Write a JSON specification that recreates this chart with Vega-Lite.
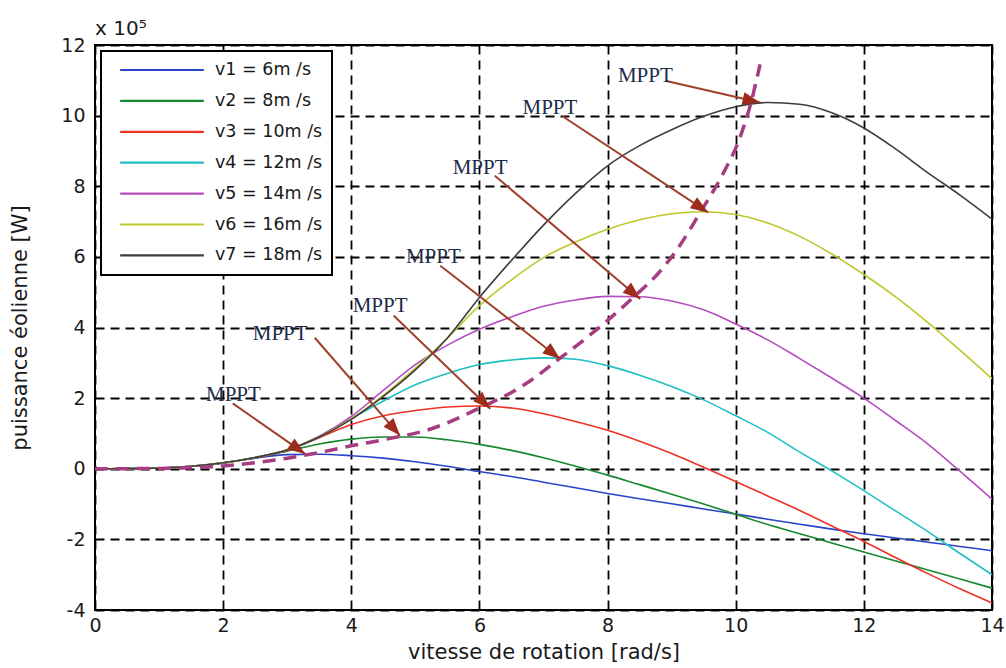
{
  "$schema": "https://vega.github.io/schema/vega-lite/v6.json",
  "width": 897,
  "height": 565,
  "autosize": {"type": "none"},
  "padding": {"left": 95, "top": 45, "right": 14, "bottom": 58},
  "background": "white",
  "title": {"text": "x 10⁵", "anchor": "start", "frame": "group", "font": "DejaVu Sans", "fontSize": 20, "fontWeight": "normal", "color": "#1a1a1a", "offset": -3},
  "datasets": {
    "curves": [
      {"x": 0, "v1": 0, "v2": 0, "v3": 0, "v4": 0, "v5": 0, "v6": 0, "v7": 0},
      {"x": 0.5, "v1": 0.003, "v2": 0.003, "v3": 0.003, "v4": 0.003, "v5": 0.003, "v6": 0.003, "v7": 0.003},
      {"x": 1, "v1": 0.02, "v2": 0.02, "v3": 0.02, "v4": 0.02, "v5": 0.02, "v6": 0.02, "v7": 0.02},
      {"x": 1.5, "v1": 0.07, "v2": 0.07, "v3": 0.07, "v4": 0.07, "v5": 0.07, "v6": 0.07, "v7": 0.07},
      {"x": 2, "v1": 0.16, "v2": 0.17, "v3": 0.16, "v4": 0.17, "v5": 0.17, "v6": 0.17, "v7": 0.17},
      {"x": 2.5, "v1": 0.3, "v2": 0.31, "v3": 0.31, "v4": 0.32, "v5": 0.32, "v6": 0.32, "v7": 0.32},
      {"x": 3, "v1": 0.4, "v2": 0.5, "v3": 0.52, "v4": 0.53, "v5": 0.54, "v6": 0.54, "v7": 0.53},
      {"x": 3.5, "v1": 0.41, "v2": 0.7, "v3": 0.88, "v4": 0.9, "v5": 0.92, "v6": 0.91, "v7": 0.9},
      {"x": 4, "v1": 0.37, "v2": 0.84, "v3": 1.25, "v4": 1.42, "v5": 1.48, "v6": 1.42, "v7": 1.4},
      {"x": 4.5, "v1": 0.3, "v2": 0.9, "v3": 1.5, "v4": 1.92, "v5": 2.22, "v6": 2.08, "v7": 2.05},
      {"x": 5, "v1": 0.2, "v2": 0.9, "v3": 1.65, "v4": 2.38, "v5": 2.95, "v6": 2.85, "v7": 2.8},
      {"x": 5.5, "v1": 0.07, "v2": 0.82, "v3": 1.75, "v4": 2.7, "v5": 3.5, "v6": 3.7, "v7": 3.7},
      {"x": 6, "v1": -0.08, "v2": 0.69, "v3": 1.775, "v4": 2.95, "v5": 3.95, "v6": 4.62, "v7": 4.85},
      {"x": 6.5, "v1": -0.22, "v2": 0.52, "v3": 1.72, "v4": 3.08, "v5": 4.3, "v6": 5.35, "v7": 5.9},
      {"x": 7, "v1": -0.38, "v2": 0.31, "v3": 1.56, "v4": 3.14, "v5": 4.6, "v6": 5.98, "v7": 6.9},
      {"x": 7.5, "v1": -0.54, "v2": 0.07, "v3": 1.34, "v4": 3.1, "v5": 4.78, "v6": 6.42, "v7": 7.8},
      {"x": 8, "v1": -0.7, "v2": -0.18, "v3": 1.09, "v4": 2.92, "v5": 4.88, "v6": 6.78, "v7": 8.58},
      {"x": 8.5, "v1": -0.85, "v2": -0.45, "v3": 0.78, "v4": 2.65, "v5": 4.87, "v6": 7.05, "v7": 9.15},
      {"x": 9, "v1": -0.99, "v2": -0.72, "v3": 0.43, "v4": 2.33, "v5": 4.75, "v6": 7.22, "v7": 9.6},
      {"x": 9.5, "v1": -1.14, "v2": -1.0, "v3": 0.04, "v4": 1.95, "v5": 4.5, "v6": 7.28, "v7": 9.98},
      {"x": 10, "v1": -1.28, "v2": -1.29, "v3": -0.36, "v4": 1.5, "v5": 4.1, "v6": 7.2, "v7": 10.25},
      {"x": 10.5, "v1": -1.43, "v2": -1.58, "v3": -0.77, "v4": 1.03, "v5": 3.65, "v6": 6.96, "v7": 10.37},
      {"x": 11, "v1": -1.57, "v2": -1.84, "v3": -1.18, "v4": 0.47, "v5": 3.12, "v6": 6.58, "v7": 10.32},
      {"x": 11.5, "v1": -1.71, "v2": -2.1, "v3": -1.62, "v4": -0.06, "v5": 2.57, "v6": 6.08, "v7": 10.08},
      {"x": 12, "v1": -1.84, "v2": -2.36, "v3": -2.06, "v4": -0.62, "v5": 2.0, "v6": 5.5, "v7": 9.65},
      {"x": 12.5, "v1": -1.96, "v2": -2.61, "v3": -2.52, "v4": -1.2, "v5": 1.36, "v6": 4.86, "v7": 9.05},
      {"x": 13, "v1": -2.08, "v2": -2.87, "v3": -2.97, "v4": -1.78, "v5": 0.7, "v6": 4.14, "v7": 8.38},
      {"x": 13.5, "v1": -2.2, "v2": -3.12, "v3": -3.4, "v4": -2.4, "v5": -0.07, "v6": 3.36, "v7": 7.75},
      {"x": 14, "v1": -2.32, "v2": -3.38, "v3": -3.8, "v4": -3.0, "v5": -0.86, "v6": 2.55, "v7": 7.07}
    ],
    "mppt": [
      {"x": 0, "P": 0}, {"x": 1, "P": 0.01}, {"x": 2, "P": 0.08}, {"x": 2.5, "P": 0.17},
      {"x": 3, "P": 0.3}, {"x": 3.5, "P": 0.46}, {"x": 4, "P": 0.65}, {"x": 4.5, "P": 0.82},
      {"x": 4.8, "P": 0.93}, {"x": 5.1, "P": 1.05}, {"x": 5.5, "P": 1.3}, {"x": 6, "P": 1.72},
      {"x": 6.5, "P": 2.16}, {"x": 6.8, "P": 2.5}, {"x": 7.2, "P": 3.05}, {"x": 7.7, "P": 3.75},
      {"x": 8.0, "P": 4.2}, {"x": 8.43, "P": 4.9}, {"x": 8.8, "P": 5.55}, {"x": 9.1, "P": 6.25},
      {"x": 9.46, "P": 7.3}, {"x": 9.8, "P": 8.35}, {"x": 10.06, "P": 9.35}, {"x": 10.24, "P": 10.38},
      {"x": 10.38, "P": 11.45}
    ],
    "annot": [
      {"label": "MPPT", "lx": 2.16, "ly": 2.09, "ax": 2.15, "ay": 1.85, "tx": 3.28, "ty": 0.42, "angle": 125},
      {"label": "MPPT", "lx": 2.89, "ly": 3.82, "ax": 3.43, "ay": 3.71, "tx": 4.76, "ty": 0.94, "angle": 139},
      {"label": "MPPT", "lx": 4.45, "ly": 4.62, "ax": 4.66, "ay": 4.34, "tx": 6.17, "ty": 1.7, "angle": 134},
      {"label": "MPPT", "lx": 5.28, "ly": 5.99, "ax": 5.39, "ay": 5.75, "tx": 7.26, "ty": 3.11, "angle": 128},
      {"label": "MPPT", "lx": 6.01, "ly": 8.53, "ax": 6.24, "ay": 8.3, "tx": 8.51, "ty": 4.81, "angle": 130},
      {"label": "MPPT", "lx": 7.1, "ly": 10.23, "ax": 7.29, "ay": 9.99, "tx": 9.57, "ty": 7.26, "angle": 123},
      {"label": "MPPT", "lx": 8.59, "ly": 11.13, "ax": 8.9, "ay": 10.99, "tx": 10.38, "ty": 10.37, "angle": 103}
    ]
  },
  "layer": [
    {
      "data": {"name": "curves"},
      "transform": [{"fold": ["v1", "v2", "v3", "v4", "v5", "v6", "v7"], "as": ["serie", "P"]}],
      "mark": {"type": "line", "strokeWidth": 1.6, "interpolate": "monotone"},
      "encoding": {
        "x": {"field": "x", "type": "quantitative", "scale": {"domain": [0, 14], "nice": false, "zero": false},
              "title": "vitesse de rotation [rad/s]",
              "axis": {"values": [0, 2, 4, 6, 8, 10, 12, 14], "labelExpr": "'' + datum.value", "labelFlush": false, "labelOverlap": false, "labelPadding": 6, "titlePadding": 6}},
        "y": {"field": "P", "type": "quantitative", "scale": {"domain": [-4, 12], "nice": false, "zero": false},
              "title": "puissance éolienne [W]",
              "axis": {"values": [-4, -2, 0, 2, 4, 6, 8, 10, 12], "labelExpr": "'' + datum.value", "labelOverlap": false, "labelPadding": 10, "titlePadding": 30}},
        "color": {"field": "serie", "type": "nominal",
                  "scale": {"domain": ["v1", "v2", "v3", "v4", "v5", "v6", "v7"],
                            "range": ["#2a44c8", "#16882e", "#ee3124", "#1fbfc4", "#b54cc0", "#bfc72a", "#3d3d3d"]},
                  "legend": {"title": null, "orient": "top-left", "offset": 6,
                             "labelExpr": "{'v1': 'v1 = 6m /s', 'v2': 'v2 = 8m /s', 'v3': 'v3 = 10m /s', 'v4': 'v4 = 12m /s', 'v5': 'v5 = 14m /s', 'v6': 'v6 = 16m /s', 'v7': 'v7 = 18m /s'}[datum.label]"}}
      }
    },
    {
      "data": {"name": "mppt"},
      "mark": {"type": "line", "color": "#a63d80", "strokeWidth": 3.5, "strokeDash": [13, 8], "interpolate": "monotone"},
      "encoding": {
        "x": {"field": "x", "type": "quantitative", "title": "vitesse de rotation [rad/s]"},
        "y": {"field": "P", "type": "quantitative", "title": "puissance éolienne [W]"}
      }
    },
    {
      "data": {"name": "annot"},
      "mark": {"type": "rule", "color": "#a0402a", "strokeWidth": 2},
      "encoding": {
        "x": {"field": "ax", "type": "quantitative", "title": "vitesse de rotation [rad/s]"},
        "y": {"field": "ay", "type": "quantitative", "title": "puissance éolienne [W]"},
        "x2": {"field": "tx"},
        "y2": {"field": "ty"}
      }
    },
    {
      "data": {"name": "annot"},
      "mark": {"type": "point", "shape": "M0,0L-0.6,1.6L0.6,1.6Z", "filled": true, "size": 480, "color": "#9e2c1c", "opacity": 1},
      "encoding": {
        "x": {"field": "tx", "type": "quantitative", "title": "vitesse de rotation [rad/s]"},
        "y": {"field": "ty", "type": "quantitative", "title": "puissance éolienne [W]"},
        "angle": {"field": "angle", "type": "quantitative", "scale": null}
      }
    },
    {
      "data": {"name": "annot"},
      "mark": {"type": "text", "font": "Liberation Serif", "fontSize": 21, "color": "#1c2a4a", "align": "center", "baseline": "middle"},
      "encoding": {
        "x": {"field": "lx", "type": "quantitative", "title": "vitesse de rotation [rad/s]"},
        "y": {"field": "ly", "type": "quantitative", "title": "puissance éolienne [W]"},
        "text": {"field": "label"}
      }
    }
  ],
  "config": {
    "view": {"stroke": "#000000", "strokeWidth": 2},
    "axis": {"grid": true, "gridColor": "#000000", "gridDash": [9, 6], "gridWidth": 1.8, "gridOpacity": 1,
             "domain": false, "ticks": false,
             "labelFont": "DejaVu Sans", "labelFontSize": 19, "labelColor": "#1a1a1a",
             "titleFont": "DejaVu Sans", "titleFontSize": 21, "titleFontWeight": "normal", "titleColor": "#1a1a1a"},
    "legend": {"symbolType": "stroke", "symbolSize": 7000, "symbolStrokeWidth": 2.2, "clipHeight": 20, "rowPadding": 10.9,
               "symbolOffset": 9, "padding": 9, "labelOffset": 10,
               "labelFont": "DejaVu Sans", "labelFontSize": 17.5, "labelColor": "#1a1a1a",
               "strokeColor": "#000000", "strokeWidth": 2, "fillColor": "#ffffff"}
  }
}
